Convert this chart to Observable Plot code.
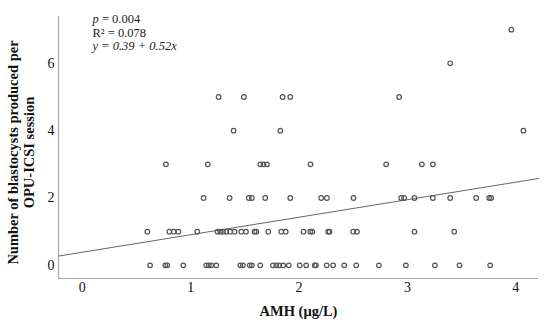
<!DOCTYPE html>
<html><head><meta charset="utf-8">
<script src="https://cdn.jsdelivr.net/npm/d3@7"></script>
<script src="https://cdn.jsdelivr.net/npm/@observablehq/plot@0.6"></script>
<style>body{margin:0;background:#fff}</style>
</head><body><div id="chart"></div>
<script>
// AMH values (µg/L) grouped by number of blastocysts per OPU-ICSI session
const amhBlasto0 = [0.625, 0.766, 0.784, 0.932, 1.144, 1.167, 1.190, 1.236, 1.458, 1.482, 1.545, 1.565, 1.642, 1.759, 1.790, 1.817, 1.854, 1.905, 2.006, 2.066, 2.145, 2.156, 2.255, 2.315, 2.417, 2.528, 2.737, 2.986, 3.254, 3.481, 3.764];
const amhBlasto1 = [0.600, 0.803, 0.842, 0.886, 1.061, 1.248, 1.273, 1.298, 1.328, 1.365, 1.405, 1.467, 1.510, 1.589, 1.605, 1.716, 1.836, 1.877, 2.041, 2.103, 2.122, 2.269, 2.281, 2.500, 2.534, 3.065, 3.432];
const amhBlasto2 = [1.119, 1.359, 1.536, 1.565, 1.688, 1.919, 2.205, 2.257, 2.503, 2.943, 2.970, 3.065, 3.235, 3.395, 3.635, 3.755, 3.773];
const amhBlasto3 = [0.772, 1.158, 1.642, 1.672, 1.704, 2.106, 2.804, 3.134, 3.235];
const amhBlasto4 = [1.396, 1.827, 4.071];
const amhBlasto5 = [1.258, 1.491, 1.848, 1.919, 2.924];
const amhBlasto6 = [3.395];
const amhBlasto7 = [3.960];
const amhByCount = [amhBlasto0, amhBlasto1, amhBlasto2, amhBlasto3, amhBlasto4, amhBlasto5, amhBlasto6, amhBlasto7];

const xTicks = [0, 1, 2, 3, 4];
const yTicks = [0, 2, 4, 6];
const xDomain = [-0.22, 4.21];
const yDomain = [-0.39, 7.39];
const fitIntercept = 0.39;
const fitSlope = 0.52;
const statsLines = ["p = 0.004", "R\u00b2 = 0.078", "y = 0.39 + 0.52x"];
const xLabel = "AMH (\u03bcg/L)";
const yLabelLines = ["Number of blastocysts produced per", "OPU-ICSI session"];

const points = amhByCount.flatMap((arr, count) => arr.map(amh => ({amh, count})));
const fitLine = xDomain.map(x => ({x, y: fitIntercept + fitSlope * x}));

const serif = "Liberation Serif";
const axisColor = "#a8a8a8";
const ink = "#555";

const chart = Plot.plot({
  width: 550,
  height: 327,
  marginTop: 16,
  marginRight: 12,
  marginBottom: 49,
  marginLeft: 58,
  style: {fontFamily: serif, fontSize: "13px", color: "#111", background: "white"},
  x: {domain: xDomain},
  y: {domain: yDomain},
  marks: [
    Plot.ruleX([xDomain[0]], {stroke: axisColor, strokeWidth: 1.2}),
    Plot.ruleY([yDomain[0]], {stroke: axisColor, strokeWidth: 1.2}),
    Plot.axisX(xTicks, {tickSize: 0, tickPadding: 4, label: null, fontSize: 14, fontFamily: serif, fill: "#111"}),
    Plot.axisY(yTicks, {tickSize: 0, tickPadding: 4, label: null, fontSize: 14, fontFamily: serif, fill: "#111"}),
    Plot.line(fitLine, {x: "x", y: "y", stroke: "#666", strokeWidth: 1}),
    Plot.dot(points, {x: "amh", y: "count", r: 2.3, stroke: ink, strokeWidth: 1.2, fill: "none"}),
    Plot.text([xLabel], {frameAnchor: "bottom", dy: 37, fontWeight: "bold", fontSize: 14.5, fontFamily: serif, fill: "#111"}),
    Plot.text([yLabelLines.join("\n")], {frameAnchor: "left", rotate: -90, dx: -37.5, dy: 5, textAnchor: "middle", lineAnchor: "middle", fontWeight: "bold", fontSize: 14.5, fontFamily: serif, lineHeight: 1.05, fill: "#111"}),
    Plot.text([statsLines.join("\n")], {frameAnchor: "top-left", dx: 34, dy: -3, textAnchor: "start", lineAnchor: "top", fontSize: 12.5, fontFamily: serif, lineHeight: 1.08, fill: "#222"})
  ]
});

// italicize the p and the equation
d3.select(chart).selectAll("tspan").each(function() {
  const t = this.textContent;
  if (t === statsLines[0]) {
    const el = d3.select(this);
    el.text("");
    el.append("tspan").attr("font-style", "italic").text("p");
    el.append("tspan").text(t.slice(1));
  } else if (t === statsLines[2]) {
    d3.select(this).attr("font-style", "italic");
  }
});

document.getElementById("chart").appendChild(chart);
</script>
</body></html>
